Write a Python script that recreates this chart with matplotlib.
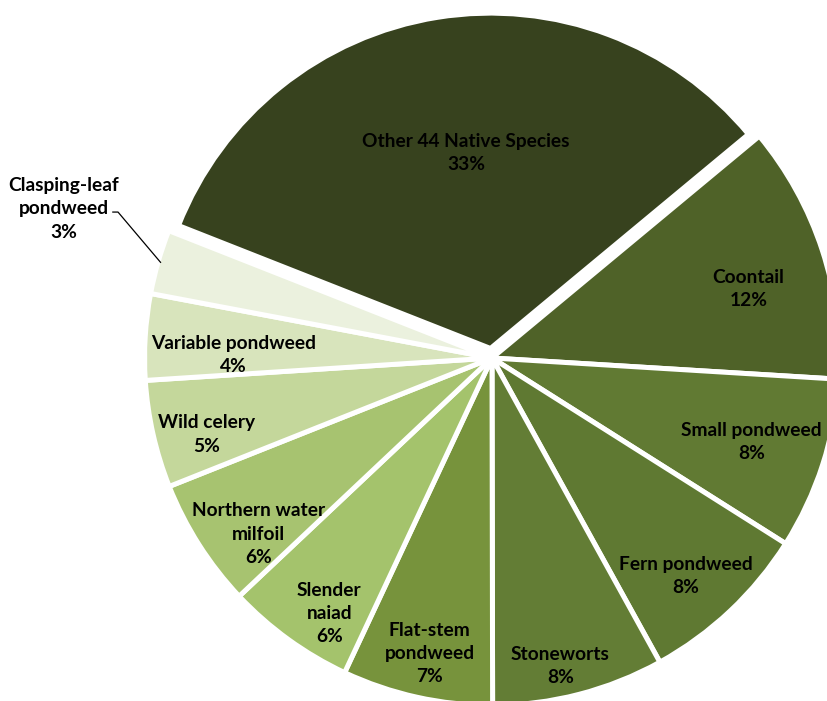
import numpy as np
import matplotlib.pyplot as plt

# --- DATA ---
species = ['Other 44 Native Species', 'Coontail', 'Small pondweed', 'Fern pondweed',
           'Stoneworts', 'Flat-stem\npondweed', 'Slender\nnaiad', 'Northern water\nmilfoil',
           'Wild celery', 'Variable pondweed', 'Clasping-leaf\npondweed']
percent = [33, 12, 8, 8, 8, 7, 6, 6, 5, 4, 3]
colors = ['#37421e', '#4f6228', '#617a33', '#5f7932', '#637d35', '#77933c',
          '#a4c36c', '#a7c370', '#c4d79b', '#d8e4bc', '#ebf1de']

# --- LAYOUT ---
explode = [0.028] + [0] * 10
# label placement: radius (fraction of pie radius) and angle shift from the wedge middle
label_r = [0.571, 0.77, 0.79, 0.845, 0.915, 0.875, 0.878, 0.848, 0.857, 0.75]
label_shift = [-2.0, -3.0, 0.0, -1.6, -2.0, 0.6, 3.4, 4.5, 2.3, 2.8]

plt.rcParams['font.family'] = ['Lato', 'DejaVu Sans']
FS = 13.8
LS = 1.45

fig = plt.figure(figsize=(8.27, 7.01), dpi=100)
ax = fig.add_axes([0, 0, 1, 1])

wedges, _ = ax.pie(percent, colors=colors, explode=explode, startangle=158.5,
                   counterclock=False, radius=1.007,
                   wedgeprops=dict(edgecolor='white', linewidth=3.6))
# the pulled-out wedge is drawn a little smaller than the rest
wedges[0].set_radius(0.972)

# labels inside the wedges
for w, name, v, r, dang in zip(wedges, species, percent, label_r, label_shift):
    ang = np.deg2rad((w.theta1 + w.theta2) / 2 + dang)
    cx, cy = w.center
    ax.text(cx + r * np.cos(ang), cy + r * np.sin(ang), f'{name}\n{v}%',
            ha='center', va='center', fontsize=FS, fontweight='bold',
            color='black', linespacing=LS)

# smallest wedge gets an outside label with a leader line
w = wedges[-1]
ang = np.deg2rad((w.theta1 + w.theta2) / 2)
px, py = np.cos(ang), np.sin(ang)
ax.plot([px, -1.084, -1.099], [py, 0.423, 0.423], color='black', lw=0.9)
ax.text(-1.241, 0.432, f'{species[-1]}\n{percent[-1]}%', ha='center', va='center',
        fontsize=FS, fontweight='bold', color='black', linespacing=LS)

ax.set_xlim(-492 / 345, (827 - 492) / 345)
ax.set_ylim(-(701 - 358) / 345, 358 / 345)
ax.axis('off')

fig.savefig('out.png', dpi=100)
